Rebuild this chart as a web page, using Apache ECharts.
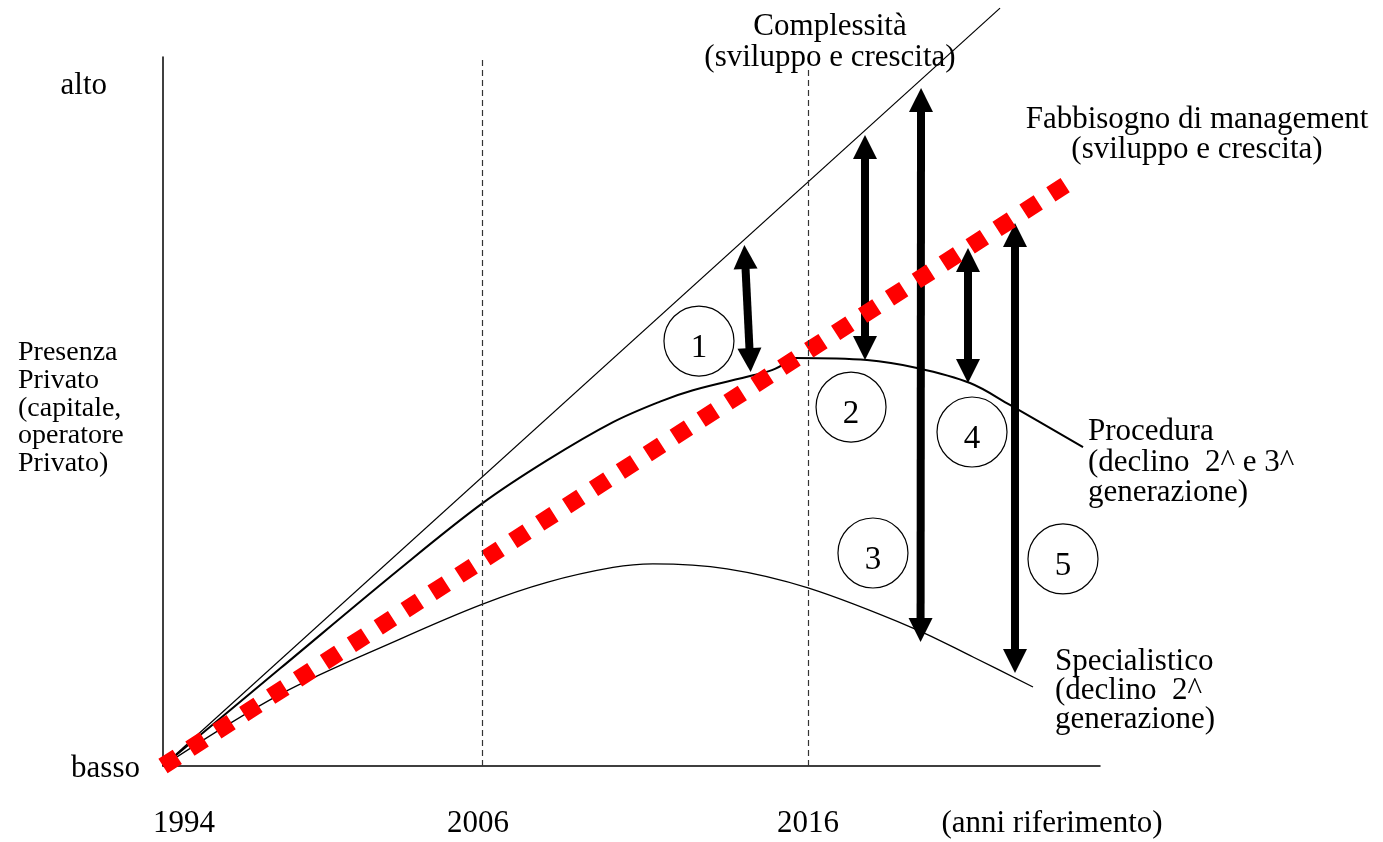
<!DOCTYPE html>
<html>
<head>
<meta charset="utf-8">
<script src="https://cdn.jsdelivr.net/npm/echarts@6/dist/echarts.min.js"></script>
<style>
  html, body { margin: 0; padding: 0; background: #fff; }
  #chart { width: 1383px; height: 842px; }
</style>
</head>
<body>
<div id="chart"></div>
<script>
// abstract scale: x 0..100 (1994 -> right end), y 0..100 (basso -> alto)
const xTickPos = [2.24, 33.62, 68.84, 94.88];
const xTickLabels = ["1994", "2006", "2016", "(anni riferimento)"];
const yTickPos = [0, 95.9];
const yTickLabels = ["basso", "alto"];

const refYears = [34.04, 68.84];
const refTops = [100, 98.45];

const complessita = [[0, 0], [89.33, 106.9]];
const fabbisogno = [[0, 0], [96.6, 82.2]];

const proceduraA = [
  [0, 0], [12.49, 13.74], [25.29, 27.82], [34.04, 37.0], [40.98, 43.1],
  [48.03, 48.5], [53.04, 51.4], [56.56, 53.0], [62.97, 55.1],
  [65.31, 56.0], [67.24, 57.6]
];
const proceduraB = [
  [67.45, 57.55], [75.13, 57.26], [80.47, 56.14], [86.13, 54.02],
  [90.39, 50.92], [98.19, 44.99]
];
const specialistico = [
  [0, 0], [12.49, 10.1], [25.29, 17.9], [34.04, 22.8], [40.98, 25.9],
  [48.03, 28.0], [52.29, 28.5], [60.19, 27.8], [68.84, 25.11],
  [80.04, 19.46], [86.45, 15.37], [92.85, 11.14]
];

// double arrows: [x1, y1, x2, y2]
const arrows = [
  [62.11, 71.79, 62.65, 57.26],
  [74.92, 87.31, 74.92, 58.96],
  [80.9, 93.93, 80.85, 19.18],
  [85.91, 71.37, 85.91, 55.71],
  [90.93, 74.89, 90.93, 14.81]
];

const circles = [
  [57.2, 59.94, "1"],
  [73.43, 50.63, "2"],
  [75.77, 30.04, "3"],
  [86.34, 47.11, "4"],
  [96.05, 29.2, "5"]
];

const serif = "Liberation Serif";

const chart = echarts.init(document.getElementById("chart"));

const thin = (data, width, smooth) => ({
  type: "line",
  data: data,
  showSymbol: false,
  smooth: smooth || false,
  clip: false,
  silent: true,
  lineStyle: { color: "#000", width: width }
});

const option = {
  backgroundColor: "#fff",
  animation: false,
  grid: {
    left: 163,
    right: 283,
    top: 57,
    bottom: 76,
    outerBoundsMode: "none"
  },
  xAxis: {
    type: "value",
    min: 0,
    max: 100,
    splitLine: { show: false },
    axisTick: { show: false },
    axisLine: { lineStyle: { color: "#000", width: 1.5 } },
    axisLabel: {
      customValues: xTickPos,
      margin: 42,
      color: "#000",
      fontFamily: serif,
      fontSize: 31,
      formatter: v => xTickLabels[xTickPos.indexOf(v)]
    }
  },
  yAxis: {
    type: "value",
    min: 0,
    max: 100,
    splitLine: { show: false },
    axisTick: { show: false },
    axisLine: { lineStyle: { color: "#000", width: 1.5 } },
    axisLabel: {
      customValues: yTickPos,
      margin: 23,
      color: "#000",
      fontFamily: serif,
      fontSize: 31,
      formatter: v => {
        const t = yTickLabels[yTickPos.indexOf(v)];
        return v === 0 ? "{b|" + t + "}" : "{a|" + t + "}";
      },
      rich: {
        a: { fontFamily: serif, fontSize: 31, color: "#000", padding: [0, 33, 0, 0] },
        b: { fontFamily: serif, fontSize: 31, color: "#000", padding: [6, 0, 0, 0] }
      }
    }
  },
  graphic: [
    {
      type: "text", x: 830, y: 11,
      style: { text: "Complessità\n(sviluppo e crescita)", fontFamily: serif, fontSize: 31,
        lineHeight: 31, fill: "#000", align: "center", verticalAlign: "top" }
    },
    {
      type: "text", x: 1197, y: 105,
      style: { text: "Fabbisogno di management\n(sviluppo e crescita)", fontFamily: serif, fontSize: 31,
        lineHeight: 30, fill: "#000", align: "center", verticalAlign: "top" }
    },
    {
      type: "text", x: 1088, y: 417,
      style: { text: "Procedura\n(declino  2^ e 3^\ngenerazione)", fontFamily: serif, fontSize: 31,
        lineHeight: 30.5, fill: "#000", align: "left", verticalAlign: "top" }
    },
    {
      type: "text", x: 1055, y: 647,
      style: { text: "Specialistico\n(declino  2^\ngenerazione)", fontFamily: serif, fontSize: 31,
        lineHeight: 29, fill: "#000", align: "left", verticalAlign: "top" }
    },
    {
      type: "text", x: 18, y: 339,
      style: { text: "Presenza\nPrivato\n(capitale,\noperatore\nPrivato)", fontFamily: serif, fontSize: 28,
        lineHeight: 27.75, fill: "#000", align: "left", verticalAlign: "top" }
    }
  ],
  series: [
    Object.assign(thin(complessita, 1.2), {
      markLine: {
        silent: true,
        symbol: "none",
        label: { show: false },
        lineStyle: { color: "#333", width: 1.2, type: [6, 4] },
        data: refYears.map((x, i) => [{ coord: [x, 0] }, { coord: [x, refTops[i]] }])
      }
    }),
    thin(specialistico, 1.3, 0.35),
    thin(proceduraA, 2, 0.35),
    thin(proceduraB, 2, 0.35),
    {
      type: "line",
      data: fabbisogno,
      showSymbol: false,
      silent: true,
      lineStyle: { color: "#ff0000", width: 17, type: [17, 15], cap: "butt" }
    },
    {
      type: "lines",
      coordinateSystem: "cartesian2d",
      silent: true,
      symbol: ["triangle", "triangle"],
      symbolSize: 24,
      lineStyle: { color: "#000", width: 8, opacity: 1, curveness: 0 },
      data: arrows.map(a => ({ coords: [[a[0], a[1]], [a[2], a[3]]] }))
    },
    {
      type: "scatter",
      silent: true,
      symbol: "circle",
      symbolSize: 70,
      itemStyle: { color: "#fff", borderColor: "#000", borderWidth: 1.2, opacity: 1 },
      label: {
        show: true,
        position: "inside",
        offset: [0, 7],
        formatter: p => p.data[2],
        color: "#000",
        fontFamily: serif,
        fontSize: 33
      },
      data: circles
    }
  ]
};

chart.setOption(option);
</script>
</body>
</html>
